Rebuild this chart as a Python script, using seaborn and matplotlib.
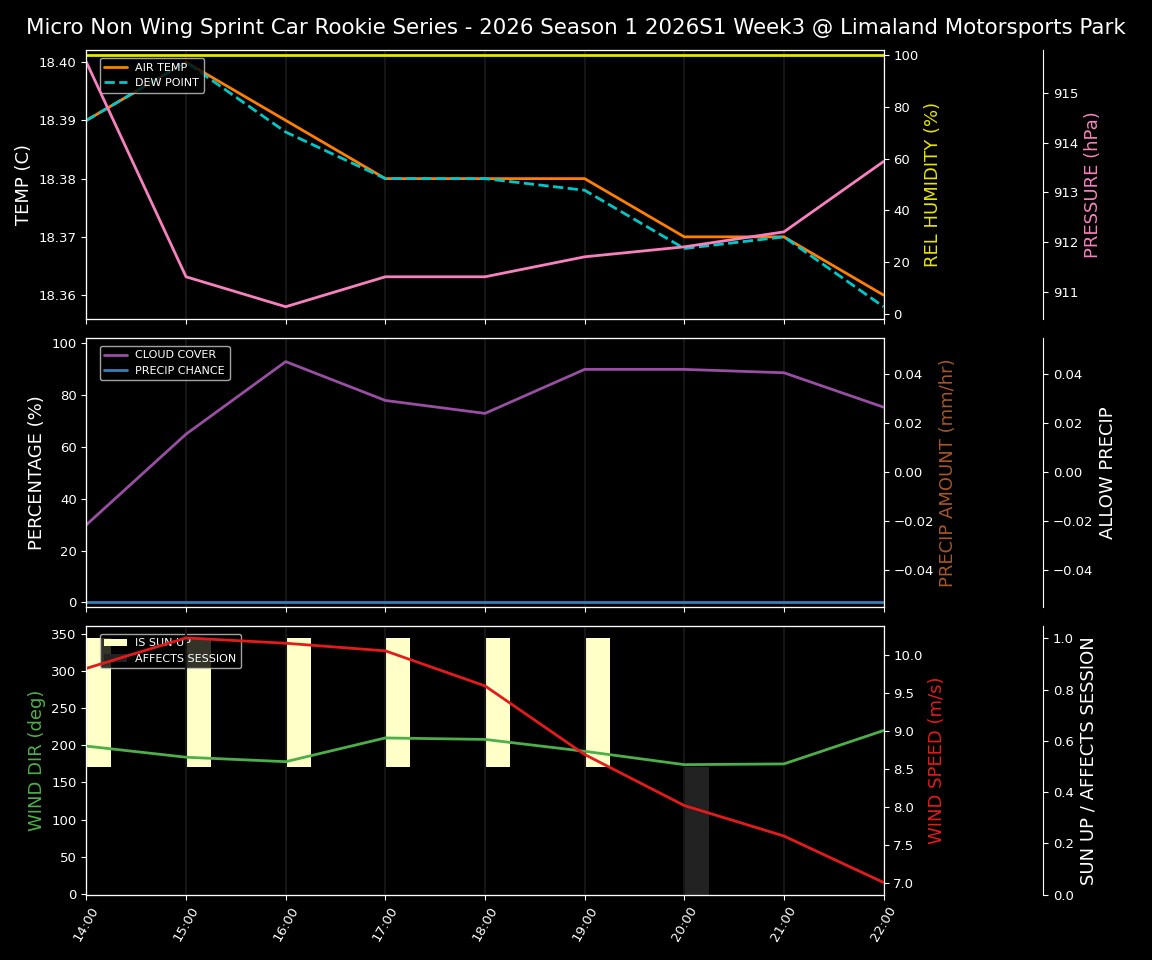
import numpy as np
import pandas as pd
import matplotlib
matplotlib.use('Agg')
import matplotlib.pyplot as plt
import seaborn as sns

# hourly forecast values
hours = [14, 15, 16, 17, 18, 19, 20, 21, 22]
hour_labels = ['14:00', '15:00', '16:00', '17:00', '18:00', '19:00', '20:00', '21:00', '22:00']

air_temp = [18.39, 18.40, 18.39, 18.38, 18.38, 18.38, 18.37, 18.37, 18.36]
dew_point = [18.39, 18.40, 18.388, 18.38, 18.38, 18.378, 18.368, 18.37, 18.358]
rel_humidity = [100, 100, 100, 100, 100, 100, 100, 100, 100]
pressure = [915.61, 911.31, 910.71, 911.31, 911.31, 911.71, 911.91, 912.21, 913.62]

cloud_cover = [30, 65, 93, 78, 73, 90, 90, 88.7, 75.4]
precip_chance = [0, 0, 0, 0, 0, 0, 0, 0, 0]
precip_amount = [0, 0, 0, 0, 0, 0, 0, 0, 0]
allow_precip = [0, 0, 0, 0, 0, 0, 0, 0, 0]

wind_dir = [199, 184, 178, 210, 208, 192, 174, 175, 220]
wind_speed = [9.82, 10.22, 10.15, 10.05, 9.59, 8.69, 8.02, 7.62, 7.01]
is_sun_up = [1, 1, 1, 1, 1, 1, 0, 0, 0]
affects_session = [0, 0, 0, 0, 0, 0, 1, 0, 0]

title = 'Micro Non Wing Sprint Car Rookie Series - 2026 Season 1 2026S1 Week3 @ Limaland Motorsports Park'

df = pd.DataFrame({
    'hour': hours,
    'air_temp': air_temp,
    'dew_point': dew_point,
    'rel_humidity': rel_humidity,
    'pressure': pressure,
    'cloud_cover': cloud_cover,
    'precip_chance': precip_chance,
    'precip_amount': precip_amount,
    'allow_precip': allow_precip,
    'wind_dir': wind_dir,
    'wind_speed': wind_speed,
    'is_sun_up': is_sun_up,
    'affects_session': affects_session,
})

plt.style.use('dark_background')
sns.set_style('dark', {'axes.facecolor': 'black', 'figure.facecolor': 'black',
                       'axes.edgecolor': 'white', 'text.color': 'white',
                       'xtick.color': 'white', 'ytick.color': 'white',
                       'axes.labelcolor': 'white', 'xtick.bottom': True,
                       'ytick.left': True})
plt.rcParams['font.family'] = ['DejaVu Sans']
plt.rcParams['xtick.labelsize'] = 9.5
plt.rcParams['ytick.labelsize'] = 9.5

ORANGE = '#ff7f00'
CYAN = '#00c8c8'
YELLOW = '#e6e600'
PINK = '#f781bf'
PURPLE = '#984ea3'
BLUE = '#377eb8'
BROWN = '#a65628'
GREEN = '#4daf4a'
RED = '#e41a1c'
LW = 2
LABEL_FS = 13

fig, axes = plt.subplots(3, 1, figsize=(11.52, 9.6), dpi=100, sharex=True)
fig.subplots_adjust(left=0.075, right=0.767, top=0.948, bottom=0.068, hspace=0.07)
fig.suptitle(title, fontsize=15.4, y=0.981)


def add_third(ax):
    ax3 = ax.twinx()
    ax3.spines['right'].set_position(('axes', 1.2))
    return ax3


# ---- panel 1: temperature / humidity / pressure
ax = axes[0]
sns.lineplot(data=df, x='hour', y='air_temp', ax=ax, color=ORANGE, lw=LW, label='AIR TEMP')
sns.lineplot(data=df, x='hour', y='dew_point', ax=ax, color=CYAN, lw=LW, ls='--', label='DEW POINT')
ax.set_ylabel('TEMP (C)', fontsize=LABEL_FS)
ax.legend(loc='upper left', fontsize=8, bbox_to_anchor=(0.01, 0.99))
ax2 = ax.twinx()
sns.lineplot(data=df, x='hour', y='rel_humidity', ax=ax2, color=YELLOW, lw=LW)
ax2.set_ylim(-2.1, 102.1)
ax2.set_ylabel('REL HUMIDITY (%)', color=YELLOW, fontsize=LABEL_FS)
ax3 = add_third(ax)
sns.lineplot(data=df, x='hour', y='pressure', ax=ax3, color=PINK, lw=LW)
ax3.set_ylabel('PRESSURE (hPa)', color=PINK, fontsize=LABEL_FS)

# ---- panel 2: clouds / precip
ax = axes[1]
sns.lineplot(data=df, x='hour', y='cloud_cover', ax=ax, color=PURPLE, lw=LW, label='CLOUD COVER')
sns.lineplot(data=df, x='hour', y='precip_chance', ax=ax, color=BLUE, lw=LW, label='PRECIP CHANCE')
ax.set_ylim(-1.7, 102.2)
ax.set_ylabel('PERCENTAGE (%)', fontsize=LABEL_FS)
ax.legend(loc='upper left', fontsize=8, bbox_to_anchor=(0.01, 0.99))
ax2 = ax.twinx()
ax2.bar(df['hour'], df['precip_amount'], width=0.25, align='edge', color=BROWN, lw=0)
ax2.set_ylim(-0.055, 0.055)
ax2.set_ylabel('PRECIP AMOUNT (mm/hr)', color=BROWN, fontsize=LABEL_FS)
ax3 = add_third(ax)
ax3.bar(df['hour'], df['allow_precip'], width=0.25, align='edge', color='white', lw=0)
ax3.set_ylim(-0.055, 0.055)
ax3.set_ylabel('ALLOW PRECIP', fontsize=LABEL_FS)

# ---- panel 3: wind / sun
ax = axes[2]
ax3 = add_third(ax)
ax3.bar(df['hour'], df['is_sun_up'] * 0.5, bottom=0.5, width=0.25, align='edge',
        color='#ffffc8', lw=0, label='IS SUN UP')
ax3.bar(df['hour'], df['affects_session'] * 0.5, width=0.25, align='edge',
        color='#222222', lw=0, label='AFFECTS SESSION')
ax3.set_ylim(0, 1.05)
ax3.set_ylabel('SUN UP / AFFECTS SESSION', fontsize=LABEL_FS)
ax3.legend(loc='upper left', fontsize=8, bbox_to_anchor=(0.01, 0.99))
ax.set_zorder(ax3.get_zorder() + 1)
ax.patch.set_visible(False)
sns.lineplot(data=df, x='hour', y='wind_dir', ax=ax, color=GREEN, lw=LW)
ax.set_ylim(-1.3, 361.3)
ax.set_ylabel('WIND DIR (deg)', color=GREEN, fontsize=LABEL_FS)
ax2 = ax.twinx()
sns.lineplot(data=df, x='hour', y='wind_speed', ax=ax2, color=RED, lw=LW)
ax2.set_ylabel('WIND SPEED (m/s)', color=RED, fontsize=LABEL_FS)

for a in axes:
    a.grid(axis='x', color='#151515', lw=1.5)
    a.grid(axis='y', visible=False)
    a.set_xlabel('')
    a.set_xlim(hours[0], hours[-1])
    a.set_xticks(hours)
axes[2].set_xticklabels(hour_labels, rotation=60)

fig.savefig('out.png', dpi=100, facecolor='black')
